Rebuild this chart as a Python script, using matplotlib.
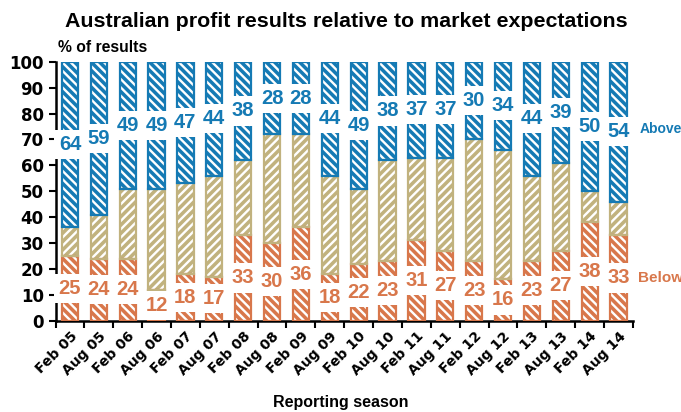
import matplotlib
matplotlib.use("Agg")
import matplotlib.pyplot as plt
import numpy as np

plt.rcParams["font.family"] = ["Liberation Sans", "DejaVu Sans"]
plt.rcParams["font.weight"] = "bold"
plt.rcParams["hatch.linewidth"] = 1.7

seasons = ["Feb 05", "Aug 05", "Feb 06", "Aug 06", "Feb 07", "Aug 07", "Feb 08",
           "Aug 08", "Feb 09", "Aug 09", "Feb 10", "Aug 10", "Feb 11", "Aug 11",
           "Feb 12", "Aug 12", "Feb 13", "Aug 13", "Feb 14", "Aug 14"]
below = [25, 24, 24, 12, 18, 17, 33, 30, 36, 18, 22, 23, 31, 27, 23, 16, 23, 27, 38, 33]
above = [64, 59, 49, 49, 47, 44, 38, 28, 28, 44, 49, 38, 37, 37, 30, 34, 44, 39, 50, 54]
inline = [100 - b - a for b, a in zip(below, above)]

blue = "#157ab4"
orange = "#d8774b"
tan = "#c1b27e"

x = np.arange(len(seasons))
w = 0.56

fig = plt.figure(figsize=(6.81, 4.12), dpi=100)
ax = fig.add_axes([0.0815, 0.2216, 0.848, 0.6284])

segments = [
    (below, np.zeros(len(x)), orange, "\\\\\\\\"),
    (inline, np.array(below), tan, "////"),
    (above, np.array(below) + np.array(inline), blue, "\\\\\\\\"),
]
for vals, bottom, color, hatch in segments:
    ax.bar(x, vals, w, bottom=bottom, color=color, edgecolor="white",
           hatch=hatch, linewidth=0, zorder=2)
    ax.bar(x, vals, w, bottom=bottom, fill=False, edgecolor=color,
           linewidth=1.6, zorder=3)

box = dict(boxstyle="square,pad=0.25", facecolor="white", edgecolor="none")
for i in range(len(x)):
    ax.text(x[i], below[i] / 2, str(below[i]), ha="center", va="center",
            fontsize=14.5, color=orange, fontweight="bold", bbox=box, zorder=5)
    ax.text(x[i], 100 - above[i] / 2, str(above[i]), ha="center", va="center",
            fontsize=14.5, color=blue, fontweight="bold", bbox=box, zorder=5)

ax.text(19.72, 100 - above[-1] / 2 + 1, "Above", ha="left", va="center",
        fontsize=10, color=blue, fontweight="bold")
ax.text(19.68, below[-1] / 2, "Below", ha="left", va="center",
        fontsize=11, color=orange, fontweight="bold")

ax.set_xlim(-0.5, len(x) - 0.5)
ax.set_ylim(0, 100)
ax.set_yticks(range(0, 101, 10))
ax.tick_params(axis="y", width=1.5, length=5, direction="out")
for lab in ax.get_yticklabels():
    lab.set_fontfamily("DejaVu Sans")
    lab.set_fontsize(12)
    lab.set_fontweight("bold")
ax.set_xticks(x)
ax.set_xticklabels(seasons, rotation=45, ha="right", rotation_mode="anchor",
                   fontsize=10, fontfamily="DejaVu Sans", fontweight="bold")
ax.tick_params(axis="x", length=0, pad=6)
ax.set_xticks(np.arange(-0.5, len(x), 1), minor=True)
ax.tick_params(axis="x", which="minor", length=5, width=1.5, direction="out")

for side in ["top", "right"]:
    ax.spines[side].set_visible(False)
for side in ["left", "bottom"]:
    ax.spines[side].set_linewidth(1.8)

fig.text(0.509, 0.947, "Australian profit results relative to market expectations",
         ha="center", va="center", fontsize=15.4, fontweight="bold")
fig.text(0.085, 0.885, "% of results", ha="left", va="center",
         fontsize=11.3, fontweight="bold")
fig.text(0.5, 0.022, "Reporting season", ha="center", va="center",
         fontsize=11.5, fontweight="bold")

fig.savefig("out.png", dpi=100)
